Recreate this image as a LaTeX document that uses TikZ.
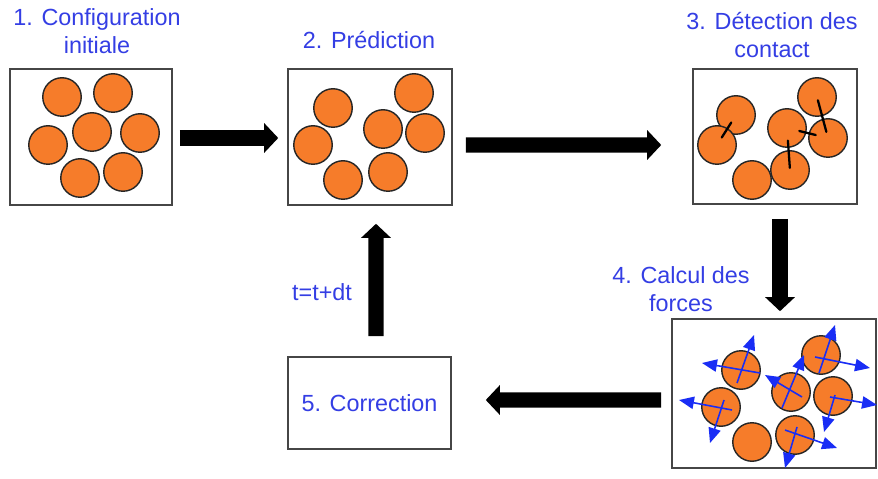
\documentclass[tikz,border=0pt]{standalone}
\usepackage{fontspec}
\setmainfont{Liberation Sans}
\definecolor{stepblue}{RGB}{52,62,228}
\definecolor{forceblue}{RGB}{25,45,245}
\definecolor{grainorange}{RGB}{246,124,42}
\definecolor{panelgray}{RGB}{70,70,70}
\usepackage{tikz}
\usetikzlibrary{arrows.meta,positioning,calc}

\tikzset{
  panel/.style={draw=panelgray, line width=0.9pt, inner sep=0pt, fill=white},
  steplabel/.style={text=stepblue, font=\fontsize{13.3}{16}\selectfont, align=center, inner sep=0pt},
  grain/.style={draw=black!85, line width=0.8pt, fill=grainorange},
  flow/.style={line width=8.6pt, -{Triangle[length=8pt,width=16.5pt]}},
  force/.style={draw=forceblue, line width=0.9pt, -{Triangle[length=8.5pt,width=7pt]}},
  contact/.style={line width=1.3pt, line cap=round}
}

\begin{document}
\begin{tikzpicture}[x=0.02cm, y=-0.02cm]
            \useasboundingbox (0,0) rectangle (878,479);

            % panels
            \node[panel, minimum width=3.24cm, minimum height=2.72cm] (config) at (91,137) {};
            \node[panel, minimum width=3.28cm, minimum height=2.72cm] (predict) at (370,137) {};
            \node[panel, minimum width=3.28cm, minimum height=2.70cm] (detect) at (775,136.5) {};
            \node[panel, minimum width=4.08cm, minimum height=2.98cm] (forces) at (774,393.5) {};
            \node[panel, minimum width=3.26cm, minimum height=1.84cm, text=stepblue,
                  font=\fontsize{13.3}{16}\selectfont] (correct) at (369.5,403) {5. Correction};

            % labels
            \node[steplabel] (lab1) at (97,31) {1. Configuration\\initiale};
            \node[steplabel] (lab2) at (369,40) {2. Prédiction};
            \node[steplabel] (lab3) at (772,35) {3. Détection des\\contact};
            \node[steplabel] (lab4) at (681,289) {4. Calcul des\\forces};
            \node[steplabel] (dtlab) at (322,292) {t=t+dt};

            % grains
            \foreach \x/\y in {62/97, 113/93, 92/132, 48/145, 140/133, 80/178, 123/172}
                \draw[grain] (\x,\y) circle[radius=0.385cm];
            \foreach \x/\y in {333/108, 414/93, 313/145, 383/129, 425/133, 343/180, 388/172}
                \draw[grain] (\x,\y) circle[radius=0.385cm];

            \foreach \n/\x/\y in {1/736/115, 2/717/145, 3/752/180, 4/787/128, 5/817/97, 6/828/138, 7/790/170}{
                \coordinate (d\n) at (\x,\y);
                \draw[grain] (d\n) circle[radius=0.385cm];
            }
            \draw[contact] ($(d1)!0.25!(d2)$) -- ($(d1)!0.75!(d2)$);
            \draw[contact] ($(d5)!0.08!(d6)$) -- ($(d5)!0.85!(d6)$);
            \draw[contact] ($(d4)!0.3!(d6)$) -- ($(d4)!0.7!(d6)$);
            \draw[contact] ($(d4)!0.3!(d7)$) -- ($(d4)!0.95!(d7)$);

            \foreach \n/\x/\y in {a/741/370, b/721/407, c/752/442, d/791/392, e/821/355, f/833/396, g/795/435}{
                \coordinate (f\n) at (\x,\y);
                \draw[grain] (f\n) circle[radius=0.385cm];
            }
            \draw[force] ($(fa)+(19,3)$) -- ($(fa)+(-39,-7)$);
            \draw[force] ($(fa)+(-4,13)$) -- ($(fa)+(13,-35)$);
            \draw[force] ($(fb)+(11,3)$) -- ($(fb)+(-42,-7)$);
            \draw[force] ($(fb)+(3,-7)$) -- ($(fb)+(-11,36)$);
            \draw[force] ($(fd)+(11,5)$) -- ($(fd)+(-26,-17)$);
            \draw[force] ($(fd)+(-9,16)$) -- ($(fd)+(13,-37)$);
            \draw[force] ($(fe)+(-2,18)$) -- ($(fe)+(14,-30)$);
            \draw[force] ($(fe)+(-6,2)$) -- ($(fe)+(49,13)$);
            \draw[force] ($(ff)+(-3,1)$) -- ($(ff)+(44,9)$);
            \draw[force] ($(ff)+(2,-1)$) -- ($(ff)+(-9,36)$);
            \draw[force] ($(fg)+(-10,-5)$) -- ($(fg)+(42,13)$);
            \draw[force] ($(fg)+(2,-8)$) -- ($(fg)+(-10,33)$);

            % steps
            \draw[flow] ($(config.east)+(7,1)$) -- ($(predict.west)+(-9,1)$);
            \draw[flow] ($(predict.east)+(13,8)$) -- ($(detect.west)+(-31,8.5)$);
            \draw[flow] ($(detect.south)+(5,14)$) -- ($(forces.north)+(6,-7)$);
            \draw[flow] ($(forces.west)+(-10,6.5)$) -- ($(correct.east)+(34,-3)$);
            \draw[flow] ($(correct.north)+(6.5,-20)$) -- ($(predict.south)+(6,18)$);
        \end{tikzpicture}
\end{document}
